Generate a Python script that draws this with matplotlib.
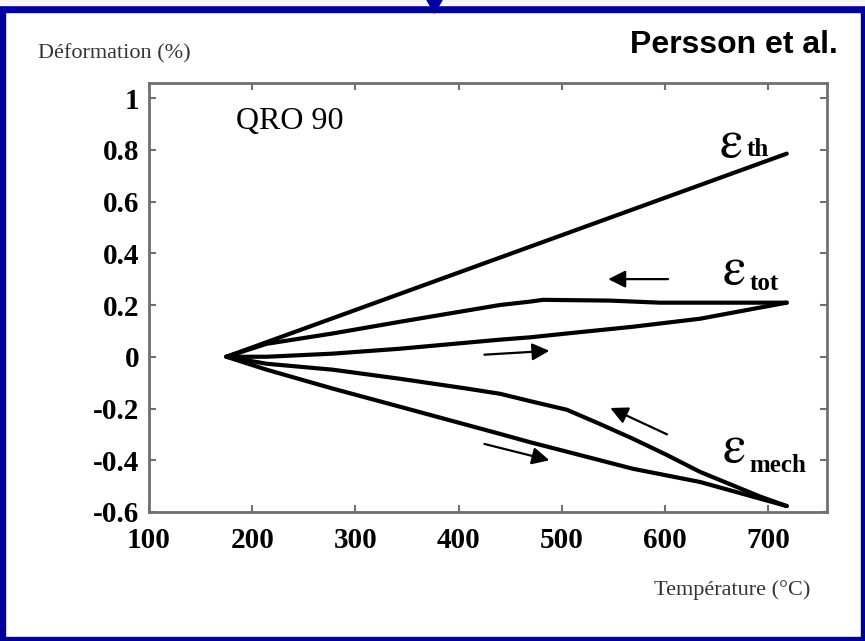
import matplotlib

matplotlib.use("Agg")
import matplotlib.pyplot as plt
from matplotlib.patches import Polygon, Rectangle

# Persson et al., QRO 90: strain vs temperature during a thermal cycle
th_temp = [175, 718]
th_strain = [0.0, 0.785]

tot_heat_temp = [175, 214, 278, 343, 440, 469, 505, 569, 634, 692, 718]
tot_heat_strain = [0.0, 0.0, 0.012, 0.031, 0.066, 0.075, 0.09, 0.116, 0.147, 0.19, 0.209]
tot_cool_temp = [718, 595, 547, 482, 469, 440, 343, 278, 214, 175]
tot_cool_strain = [0.209, 0.209, 0.217, 0.22, 0.213, 0.20, 0.135, 0.09, 0.05, 0.0]

mech_heat_temp = [175, 214, 278, 343, 440, 469, 505, 569, 634, 718]
mech_heat_strain = [0.0, -0.05, -0.123, -0.193, -0.298, -0.33, -0.367, -0.433, -0.484, -0.577]
mech_cool_temp = [718, 692, 634, 602, 569, 537, 505, 472, 440, 408, 343, 278, 214, 175]
mech_cool_strain = [-0.577, -0.54, -0.445, -0.38, -0.317, -0.26, -0.205, -0.174, -0.143,
                    -0.123, -0.085, -0.05, -0.027, 0.0]

x_ticks = [100, 200, 300, 400, 500, 600, 700]
y_ticks = [-0.6, -0.4, -0.2, 0, 0.2, 0.4, 0.6, 0.8, 1]
y_tick_labels = ["-0.6", "-0.4", "-0.2", "0", "0.2", "0.4", "0.6", "0.8", "1"]

# direction arrows (tail -> head)
arrows = [
    ((603, 0.30), (545, 0.30)),
    ((425, 0.008), (488, 0.023)),
    ((425, -0.337), (488, -0.40)),
    ((602, -0.30), (547, -0.198)),
]

# (epsilon position, subscript position, subscript)
curve_labels = [
    ((653, 0.82), (679, 0.774), "th"),
    ((656, 0.329), (682, 0.259), "tot"),
    ((656, -0.36), (682, -0.445), "mech"),
]

serif = ["Liberation Serif", "DejaVu Serif"]
grey = "#707070"
blue = "#00009C"

fig = plt.figure(figsize=(8.65, 6.41), dpi=100)
fig.patch.set_facecolor("white")
W, H = 865.0, 641.0

# blue slide frame
fig.add_artist(Rectangle((0, 1 - 12 / H), 1, 7 / H, transform=fig.transFigure, color=blue))
fig.add_artist(Rectangle((0, 0), 5 / W, 1 - 5 / H, transform=fig.transFigure, color=blue))
fig.add_artist(Rectangle((861 / W, 0), 4 / W, 1 - 5 / H, transform=fig.transFigure, color=blue))
fig.add_artist(Rectangle((0, 0), 1, 4 / H, transform=fig.transFigure, color=blue))
fig.add_artist(Rectangle((0, 1 - 5 / H), 1, 5 / H, transform=fig.transFigure, color="#F6F6F6"))
fig.add_artist(Polygon([(427 / W, 1), (442 / W, 1), (434.5 / W, 1 - 13 / H)],
                       closed=True, transform=fig.transFigure, color=blue))

ax = fig.add_axes([149 / W, 1 - 512 / H, (827 - 149) / W, (512 - 83) / H])

line_kw = dict(color="black", lw=3.0, solid_joinstyle="round", solid_capstyle="round")
ax.plot(th_temp, th_strain, **line_kw)
ax.plot(tot_heat_temp, tot_heat_strain, **line_kw)
ax.plot(tot_cool_temp, tot_cool_strain, **line_kw)
ax.plot(mech_heat_temp, mech_heat_strain, **line_kw)
ax.plot(mech_cool_temp, mech_cool_strain, **line_kw)

for tail, head in arrows:
    ax.annotate("", xy=head, xytext=tail,
                arrowprops=dict(arrowstyle="-|>", color="black", lw=1.6,
                                mutation_scale=26, shrinkA=0, shrinkB=0))

for eps_pos, sub_pos, sub in curve_labels:
    ax.text(eps_pos[0], eps_pos[1], "\u03b5", fontsize=38,
            family=["STIXGeneral", "DejaVu Serif"], ha="left", va="center")
    ax.text(sub_pos[0], sub_pos[1], sub, fontsize=18, family=serif,
            fontweight="bold", ha="left", va="baseline")

ax.text(184, 0.91, "QRO 90", fontsize=23, family=serif, ha="left", va="center")

ax.set_xlim(100, 757)
ax.set_ylim(-0.6, 1.058)
ax.set_xticks(x_ticks)
ax.set_yticks(y_ticks)
ax.set_yticklabels(y_tick_labels)
for lab in ax.get_xticklabels() + ax.get_yticklabels():
    lab.set_family(serif)
    lab.set_fontweight("bold")
    lab.set_fontsize(21)
ax.tick_params(direction="in", length=5, width=1.5, color=grey, top=True, right=True)
ax.tick_params(axis="y", pad=7)
ax.tick_params(axis="x", pad=11)
for spine in ax.spines.values():
    spine.set_color(grey)
    spine.set_linewidth(2)

fig.text(38 / W, 1 - 54 / H, "Déformation (%)", fontsize=16, family=serif,
         color="#333333", ha="left", va="center")
fig.text(810 / W, 1 - 590 / H, "Température (°C)", fontsize=16, family=serif,
         color="#333333", ha="right", va="center")
fig.text(838 / W, 1 - 45 / H, "Persson et al.", fontsize=23, fontweight="bold",
         family=["Liberation Sans", "DejaVu Sans"], ha="right", va="center")

fig.savefig("out.png", dpi=100)
